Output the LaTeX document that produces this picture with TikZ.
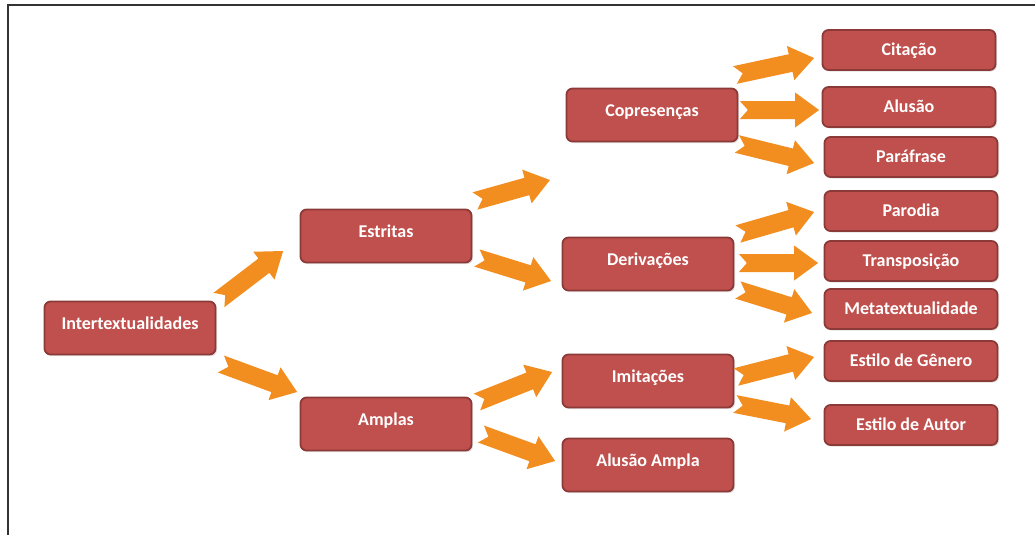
\documentclass[tikz,border=0pt]{standalone}
\usepackage{fontspec}
\setmainfont{Carlito}
\usetikzlibrary{calc,shadows}
\definecolor{boxred}{HTML}{C0504D}
\definecolor{boxedge}{HTML}{8C3A38}
\definecolor{arroworange}{HTML}{F28D20}
\tikzset{
  big/.style={rectangle, rounded corners=6pt, fill=boxred, draw=boxedge, line width=1.8pt,
    minimum width=171pt, minimum height=53pt, text=white,
    text height=12pt, text depth=10pt,
    font=\bfseries\fontsize{18}{21}\selectfont,
    drop shadow={opacity=0.25, shadow xshift=1.5pt, shadow yshift=-1.5pt}},
  small/.style={big, minimum width=173pt, minimum height=40pt, text depth=0.5pt},
}
% orange block arrow with notched tail, from #1 to #2
\newcommand\bigarrow[2]{%
  \fill[arroworange] let \p1=(#1), \p2=(#2),
    \n1={atan2(\y2-\y1,\x2-\x1)}, \n2={veclen(\x2-\x1,\y2-\y1)-24} in
    ($(\p1)+(\n1+90:9pt)$) -- ++(\n1:\n2) -- ++(\n1+90:8.5pt) -- (\p2)
    -- ($(\p1)+(\n1:\n2)+(\n1-90:17.5pt)$) -- ++(\n1+90:8.5pt)
    -- ($(\p1)+(\n1-90:9pt)$) -- ($(\p1)+(\n1:8pt)$) -- cycle;}
\begin{document}
\begin{tikzpicture}[x=1pt, y=-1pt]
                \useasboundingbox (0,0) rectangle (1035,535);
                \draw[line width=1.5pt, black!80] (8,535) -- (8,5) -- (1035,5);

                \node[big] (I) at (130, 328) {Intertextualidades};
                \node[big] (E) at (386, 236) {Estritas};
                \node[big] (A) at (386, 424) {Amplas};
                \node[big] (C) at (652, 115) {Copresenças};
                \node[big] (D) at (648, 264) {Derivações};
                \node[big] (Im) at (648, 381) {Imitações};
                \node[big] (AA) at (648, 465) {Alusão Ampla};
                \node[small] (Cit) at (909, 50) {Citação};
                \node[small] (Al) at (909, 107) {Alusão};
                \node[small] (Par) at (911, 157) {Paráfrase};
                \node[small] (Pd) at (911, 211) {Parodia};
                \node[small] (T) at (911, 261) {Transposição};
                \node[small] (M) at (911, 309) {Metatextualidade};
                \node[small] (G) at (911, 361) {Estilo de Gênero};
                \node[small] (Au) at (911, 425) {Estilo de Autor};
                \coordinate (gap) at (550, 180);

                \bigarrow{[shift={(2.5,-28)}]I.east}{[shift={(-16.5,15)}]E.west}
                \bigarrow{[shift={(4.5,36)}]I.east}{[shift={(-2.5,-32)}]A.west}
                \bigarrow{[shift={(2.5,-35)}]E.east}{gap}
                \bigarrow{[shift={(4.5,22)}]E.east}{[shift={(-10.5,17)}]D.west}
                \bigarrow{[shift={(4.5,-22)}]A.east}{[shift={(-9.5,-9)}]Im.west}
                \bigarrow{[shift={(8.5,10)}]A.east}{[shift={(-6.5,-4)}]AA.west}
                \bigarrow{[shift={(-3.5,-40)}]C.east}{[shift={(-7.5,8)}]Cit.west}
                \bigarrow{[shift={(1.5,-5)}]C.east}{[shift={(-2.5,3)}]Al.west}
                \bigarrow{[shift={(-1.5,29)}]C.east}{[shift={(-9.5,6)}]Par.west}
                \bigarrow{[shift={(3.5,-30)}]D.east}{[shift={(-9.5,1)}]Pd.west}
                \bigarrow{[shift={(4.5,-1)}]D.east}{[shift={(-5.5,2)}]T.west}
                \bigarrow{[shift={(3.5,26)}]D.east}{[shift={(-11.5,4)}]M.west}
                \bigarrow{[shift={(1.5,-4)}]Im.east}{[shift={(-9.5,-4)}]G.west}
                \bigarrow{[shift={(0.5,23)}]Im.east}{[shift={(-12.5,-6)}]Au.west}
            \end{tikzpicture}
\end{document}
